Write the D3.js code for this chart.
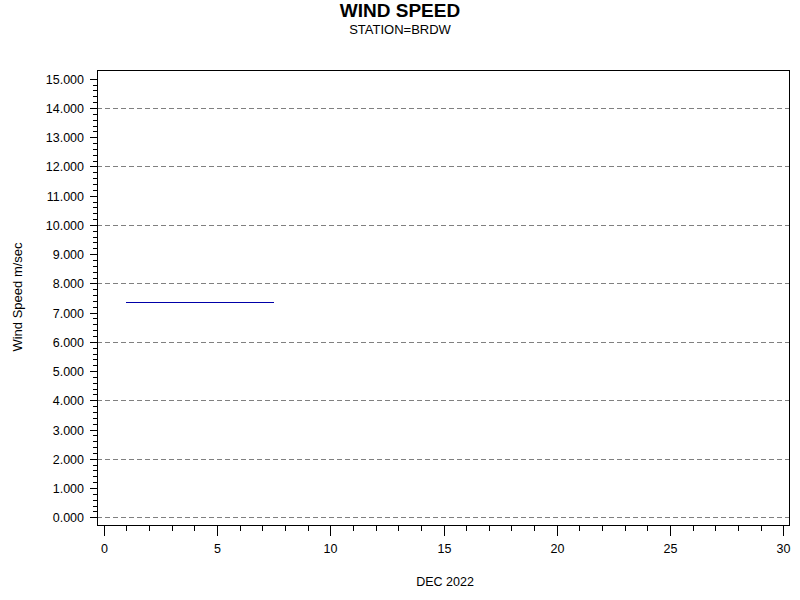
<!DOCTYPE html>
<html>
<head>
<meta charset="utf-8">
<script src="https://cdn.jsdelivr.net/npm/d3@7"></script>
<style>
  body { margin: 0; background: #fff; }
  text { font-family: "Liberation Sans", Arial, sans-serif; }
</style>
</head>
<body>
<script>
// wind speed readings, day of month (Dec 2022) vs m/sec
var days = [1, 7.5];
var speeds = [7.38, 7.38];

var yMajor = [0, 1, 2, 3, 4, 5, 6, 7, 8, 9, 10, 11, 12, 13, 14, 15];
var yGrid = [0, 2, 4, 6, 8, 10, 12, 14];
var xMajor = [0, 5, 10, 15, 20, 25, 30];

var svg = d3.select("body").append("svg").attr("width", 800).attr("height", 600);

var x = d3.scaleLinear().domain([0, 30]).rangeRound([103.7, 783.3]);
var y = d3.scaleLinear().domain([0, 15]).rangeRound([517.2, 78.8]);

svg.append("text")
  .attr("x", 400).attr("y", 17)
  .attr("text-anchor", "middle")
  .style("font-size", "19px").style("font-weight", "bold")
  .text("WIND SPEED");

svg.append("text")
  .attr("x", 400).attr("y", 34)
  .attr("text-anchor", "middle")
  .style("font-size", "13px")
  .text("STATION=BRDW");

// dashed grid
svg.append("g")
  .selectAll("line")
  .data(yGrid)
  .enter()
  .append("line")
  .attr("x1", 97).attr("x2", 790)
  .attr("y1", (d) => y(d) + 0.5)
  .attr("y2", (d) => y(d) + 0.5)
  .attr("stroke", "#808080")
  .attr("stroke-dasharray", "5,3");

// frame
svg.append("rect")
  .attr("x", 97.5).attr("y", 70.5)
  .attr("width", 692).attr("height", 455)
  .attr("fill", "none").attr("stroke", "#000");

function styleAxis(g) {
  g.selectAll(".domain").remove();
  g.selectAll("line").attr("stroke", "#000").attr("shape-rendering", "crispEdges");
  g.selectAll("text")
    .style("font-size", "12.5px")
    .style("font-family", "Liberation Sans, Arial, sans-serif")
    .attr("fill", "#000");
}

// y axis, minor then major
svg.append("g")
  .attr("transform", "translate(97,0)")
  .call(d3.axisLeft(y).tickValues(d3.range(0, 15.01, 0.2)).tickSize(4).tickFormat(""))
  .call(styleAxis);
svg.append("g")
  .attr("transform", "translate(97,0)")
  .call(d3.axisLeft(y).tickValues(yMajor).tickSize(7).tickPadding(6).tickFormat(d3.format(".3f")))
  .call(styleAxis);

// x axis, minor then major
svg.append("g")
  .attr("transform", "translate(0,525)")
  .call(d3.axisBottom(x).tickValues(d3.range(0, 31, 1)).tickSize(6).tickFormat(""))
  .call(styleAxis);
svg.append("g")
  .attr("transform", "translate(0,525)")
  .call(d3.axisBottom(x).tickValues(xMajor).tickSize(11).tickPadding(8).tickFormat(d3.format("d")))
  .call(styleAxis);

svg.append("text")
  .attr("x", 445).attr("y", 586)
  .attr("text-anchor", "middle")
  .style("font-size", "12.5px")
  .text("DEC 2022");

svg.append("text")
  .attr("transform", "translate(22,297) rotate(-90)")
  .attr("text-anchor", "middle")
  .style("font-size", "13px")
  .text("Wind Speed m/sec");

// data line
var line = d3.line().x((d) => x(d)).y((d, i) => y(speeds[i]) + 0.5);
svg.append("path")
  .datum(days)
  .attr("d", line)
  .attr("fill", "none")
  .attr("stroke", "#0000a8")
  .attr("stroke-width", 1);
</script>
</body>
</html>
